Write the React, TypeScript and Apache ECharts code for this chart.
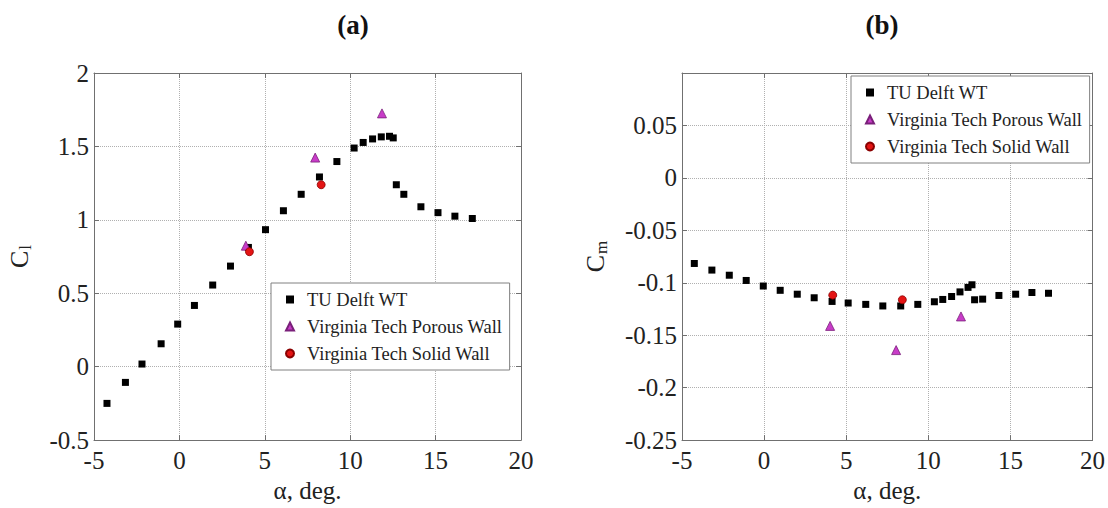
import React, { useEffect, useRef } from "react";
import * as echarts from "echarts";

// ---- Data ----
const seriesNames = ["TU Delft WT", "Virginia Tech Porous Wall", "Virginia Tech Solid Wall"];

// (a) Lift coefficient
const alphaTuCl = [-4.24, -3.16, -2.19, -1.07, -0.1, 0.88, 1.95, 2.99, 4.04, 5.04, 6.09, 7.13, 8.2, 9.22, 10.23, 10.76, 11.31, 11.82, 12.3, 12.52, 12.7, 13.14, 14.14, 15.14, 16.13, 17.15];
const clTu = [-0.25, -0.107, 0.018, 0.156, 0.29, 0.417, 0.556, 0.685, 0.812, 0.933, 1.062, 1.174, 1.292, 1.397, 1.489, 1.527, 1.551, 1.565, 1.569, 1.558, 1.239, 1.174, 1.089, 1.049, 1.025, 1.009];
const alphaPorousCl = [3.89, 7.95, 11.86];
const clPorous = [0.824, 1.424, 1.725];
const alphaSolidCl = [4.1, 8.3];
const clSolid = [0.783, 1.239];

// (b) Moment coefficient
const alphaTuCm = [-4.25, -3.18, -2.12, -1.09, -0.05, 0.98, 2.02, 3.05, 4.14, 5.12, 6.19, 7.23, 8.32, 9.36, 10.37, 10.88, 11.42, 11.93, 12.42, 12.66, 12.82, 13.31, 14.3, 15.32, 16.31, 17.32];
const cmTu = [-0.0816, -0.0879, -0.0928, -0.0978, -0.1031, -0.1072, -0.1109, -0.1143, -0.1178, -0.1193, -0.1206, -0.1221, -0.1221, -0.1206, -0.1181, -0.1159, -0.1131, -0.1087, -0.1044, -0.1019, -0.1162, -0.1156, -0.1121, -0.1109, -0.1093, -0.11];
const alphaPorousCm = [4.02, 8.04, 11.99];
const cmPorous = [-0.1411, -0.1642, -0.1321];
const alphaSolidCm = [4.18, 8.42];
const cmSolid = [-0.1118, -0.1162];

const pairs = (xs: number[], ys: number[]) => xs.map((x, i) => [x, ys[i]]);

const FONT = '"Liberation Serif", "Times New Roman", serif';
const AXIS_COLOR = "#707070";
const GRID_COLOR = "#b0b0b0";
const TICK_FS = 25;

const fmt = (v: number) => {
  const r = parseFloat(v.toFixed(3));
  return String(r);
};

function bottomX(gridIndex: number) {
  return {
    type: "value",
    gridIndex,
    min: -5,
    max: 20,
    interval: 5,
    position: "bottom",
    name: "α, deg.",
    nameLocation: "middle",
    nameGap: 35,
    nameTextStyle: { fontFamily: FONT, fontSize: 25, color: "#222" },
    axisLine: { show: true, onZero: false, lineStyle: { color: AXIS_COLOR, width: 1 } },
    axisTick: { show: true, inside: true, length: 5, lineStyle: { color: AXIS_COLOR } },
    axisLabel: { fontFamily: FONT, fontSize: TICK_FS, color: "#222", margin: 8, formatter: fmt },
    splitLine: { show: true, lineStyle: { color: GRID_COLOR, type: "dotted", width: 1 } },
  };
}
function topX(gridIndex: number) {
  return {
    type: "value",
    gridIndex,
    min: -5,
    max: 20,
    interval: 5,
    position: "top",
    axisLine: { show: true, onZero: false, lineStyle: { color: AXIS_COLOR, width: 1 } },
    axisTick: { show: true, inside: true, length: 5, lineStyle: { color: AXIS_COLOR } },
    axisLabel: { show: false },
    splitLine: { show: false },
  };
}
function leftY(gridIndex: number, min: number, max: number, interval: number, name: string, gap: number, hideAbove: number) {
  return {
    type: "value",
    gridIndex,
    min,
    max,
    interval,
    position: "left",
    name,
    nameLocation: "middle",
    nameRotate: 90,
    nameGap: gap,
    nameTextStyle: {
      fontFamily: FONT,
      color: "#222",
      rich: {
        c: { fontFamily: FONT, fontSize: 26, color: "#222", lineHeight: 30 },
        s: { fontFamily: FONT, fontSize: 17, color: "#222", verticalAlign: "bottom", lineHeight: 30, padding: [10, 0, 0, 1] },
      },
    },
    axisLine: { show: true, onZero: false, lineStyle: { color: AXIS_COLOR, width: 1 } },
    axisTick: { show: true, inside: true, length: 5, lineStyle: { color: AXIS_COLOR } },
    axisLabel: {
      fontFamily: FONT,
      fontSize: TICK_FS,
      color: "#222",
      margin: 5,
      formatter: (v: number) => (v > hideAbove ? "" : fmt(v)),
    },
    splitLine: { show: true, lineStyle: { color: GRID_COLOR, type: "dotted", width: 1 } },
  };
}
function rightY(gridIndex: number, min: number, max: number, interval: number) {
  return {
    type: "value",
    gridIndex,
    min,
    max,
    interval,
    position: "right",
    axisLine: { show: true, onZero: false, lineStyle: { color: AXIS_COLOR, width: 1 } },
    axisTick: { show: true, inside: true, length: 5, lineStyle: { color: AXIS_COLOR } },
    axisLabel: { show: false },
    splitLine: { show: false },
  };
}

const tuStyle = { color: "#000000", borderColor: "#000000", borderWidth: 0, opacity: 1 };
const porousStyle = { color: "#c83cc8", borderColor: "#7a207a", borderWidth: 0.8, opacity: 1 };
const solidStyle = { color: "#e41414", borderColor: "#8a0000", borderWidth: 0.8, opacity: 1 };

const legendIcons = ["rect", "triangle", "circle"];

function legendAt(left: number, top: number) {
  return {
    data: seriesNames.map((n, i) => ({ name: n, icon: legendIcons[i] })),
    orient: "vertical",
    left,
    top,
    selectedMode: false,
    itemWidth: 8,
    itemHeight: 8,
    itemGap: 6,
    padding: [6, 7, 6, 14],
    backgroundColor: "#ffffff",
    borderColor: "#808080",
    borderWidth: 1,
    borderRadius: 0,
    textStyle: { fontFamily: FONT, fontSize: 18.5, color: "#222", lineHeight: 21, padding: [0, 0, 0, 8] },
  };
}

export default function App() {
  const ref = useRef<HTMLDivElement>(null);
  useEffect(() => {
    if (!ref.current) return;
    const chart = echarts.init(ref.current, undefined, { renderer: "svg" });
    chart.setOption({
      animation: false,
      backgroundColor: "#ffffff",
      textStyle: { fontFamily: FONT },
      grid: [
        { left: 94, top: 73, width: 427, height: 374, show: false },
        { left: 682, top: 73, width: 411, height: 374, show: false },
      ],
      xAxis: [bottomX(0), topX(0), bottomX(1), topX(1)],
      yAxis: [
        leftY(0, -0.5, 2, 0.5, "{c|C}{s|l}", 60, 10),
        rightY(0, -0.5, 2, 0.5),
        leftY(1, -0.25, 0.1, 0.05, "{c|C}{s|m}", 72, 0.075),
        rightY(1, -0.25, 0.1, 0.05),
      ],
      legend: [legendAt(271, 283), legendAt(851, 76)],
      graphic: [
        {
          type: "text",
          x: 353,
          y: 25,
          style: { text: "(a)", fontFamily: FONT, fontSize: 27, fontWeight: "bold", fill: "#111", align: "center", verticalAlign: "middle" },
        },
        {
          type: "text",
          x: 882,
          y: 25,
          style: { text: "(b)", fontFamily: FONT, fontSize: 27, fontWeight: "bold", fill: "#111", align: "center", verticalAlign: "middle" },
        },
      ],
      series: [
        { name: seriesNames[0], type: "scatter", xAxisIndex: 0, yAxisIndex: 0, symbol: "rect", symbolSize: 7, itemStyle: tuStyle, data: pairs(alphaTuCl, clTu) },
        { name: seriesNames[1], type: "scatter", xAxisIndex: 0, yAxisIndex: 0, symbol: "triangle", symbolSize: 9, itemStyle: porousStyle, data: pairs(alphaPorousCl, clPorous) },
        { name: seriesNames[2], type: "scatter", xAxisIndex: 0, yAxisIndex: 0, symbol: "circle", symbolSize: 8, itemStyle: solidStyle, data: pairs(alphaSolidCl, clSolid) },
        { name: seriesNames[0], type: "scatter", xAxisIndex: 2, yAxisIndex: 2, symbol: "rect", symbolSize: 7, itemStyle: tuStyle, data: pairs(alphaTuCm, cmTu) },
        { name: seriesNames[1], type: "scatter", xAxisIndex: 2, yAxisIndex: 2, symbol: "triangle", symbolSize: 9, itemStyle: porousStyle, data: pairs(alphaPorousCm, cmPorous) },
        { name: seriesNames[2], type: "scatter", xAxisIndex: 2, yAxisIndex: 2, symbol: "circle", symbolSize: 8, itemStyle: solidStyle, data: pairs(alphaSolidCm, cmSolid) },
      ],
    });
    return () => chart.dispose();
  }, []);
  return <div ref={ref} style={{ position: "fixed", left: 0, top: 0, width: 1108, height: 508, background: "#fff" }} />;
}
